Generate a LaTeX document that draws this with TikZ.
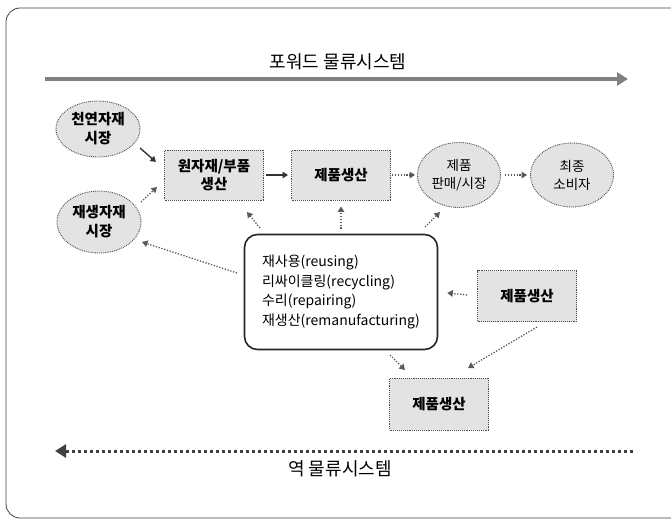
\documentclass[tikz,border=0pt]{standalone}
\usepackage{fontspec}
\setmainfont{Noto Sans CJK KR}
\usetikzlibrary{arrows.meta,shapes.geometric}
\begin{document}
\begin{tikzpicture}[x=1pt,y=-1pt,
  shaded/.style={draw=black!70, densely dotted, line width=0.9pt, fill=black!11, align=center, inner sep=0pt},
  rbox/.style={shaded, rectangle, minimum width=99pt, minimum height=50pt, font=\bfseries\fontsize{14.5}{18}\selectfont},
  ebox/.style={shaded, ellipse, minimum width=84pt, minimum height=60pt, font=\bfseries\fontsize{14.5}{19}\selectfont},
  eboxlight/.style={ebox, font=\fontsize{13.5}{18}\selectfont},
  dotarr/.style={draw=black!65, line width=1.3pt, dash pattern=on 1.3pt off 1.6pt, -{Triangle[width=6.5pt,length=5.5pt]}},
  solidarr/.style={draw=black!80, line width=1.4pt, -{Triangle[width=6.5pt,length=5.5pt]}},
  label/.style={font=\fontsize{18}{21}\selectfont, inner sep=0pt}
]
\useasboundingbox (0,0) rectangle (671,519);
% outer frame (runs off the right and bottom edges)
\begin{scope}
\clip (0,0) rectangle (671,519);
\draw[black!75, line width=0.8pt, rounded corners=14pt] (6,8) rectangle (720,518);
\end{scope}

% forward system
\node[label] (ftitle) at (338,62) {포워드 물류시스템};
\coordinate (fa) at (45,79);
\coordinate (fb) at (628,79);
\draw[line width=3.2pt, black!50, -{Triangle[width=13pt,length=11pt]}] (fa) -- (fb);

% nodes
\node[ebox, minimum height=56pt] (e1) at (98,129) {천연자재\\시장};
\node[ebox, minimum height=62pt] (e2) at (99,222) {재생자재\\시장};
\node[rbox] (r1) at (214,175) {원자재/부품\\생산};
\node[rbox] (r2) at (341,175) {제품생산};
\node[eboxlight, minimum width=83pt, minimum height=65pt] (e3) at (459,175) {제품\\판매/시장};
\node[eboxlight, minimum width=83pt, minimum height=64pt] (e4) at (572,175) {최종\\소비자};
\node[draw=black!85, line width=1.6pt, rounded corners=13pt, fill=white,
      minimum width=193pt, minimum height=115pt, align=left, inner sep=0pt,
      font=\fontsize{14}{19.5}\selectfont] (box) at (341,292)
      {재사용(reusing)\\리싸이클링(recycling)\\수리(repairing)\\재생산(remanufacturing)};
\node[rbox, minimum height=51pt] (rr) at (527,296) {제품생산};
\node[rbox, minimum height=52pt] (rb) at (439,404) {제품생산};

% connectors
\draw[solidarr] ([shift={(42,19)}]e1.center) -- ([shift={(-58,-13)}]r1.center);
\draw[dotarr] ([shift={(42,-20)}]e2.center) -- ([shift={(-57,12)}]r1.center);
\draw[solidarr, shorten <=2pt, shorten >=3pt] (r1.east) -- (r2.west);
\draw[dotarr, shorten <=1pt, shorten >=2pt] (r2.east) -- (e3.west);
\draw[dotarr, shorten <=4pt, shorten >=3pt] (e3.east) -- (e4.west);
\draw[dotarr] ([shift={(-81,-64)}]box.center) -- ([shift={(33,37)}]r1.center);
\draw[dotarr, shorten <=5pt, shorten >=6pt] (box.north) -- (r2.south);
\draw[dotarr] ([shift={(84,-65)}]box.center) -- ([shift={(-19,37)}]e3.center);
\draw[dotarr] ([shift={(-104,-19)}]box.center) -- ([shift={(43,20)}]e2.center);
\draw[dotarr, shorten <=10pt, shorten >=9pt] (rr.west) -- (box.east);
\draw[dotarr] ([shift={(49,63)}]box.center) -- ([shift={(-34,-34)}]rb.center);
\draw[dotarr] ([shift={(10,31)}]rr.center) -- ([shift={(29,-36)}]rb.center);

% reverse system
\coordinate (ra) at (633,451);
\coordinate (rz) at (55,451);
\draw[line width=3pt, black!75, dash pattern=on 2.6pt off 3.4pt, -{Triangle[width=13pt,length=11pt]}] (ra) -- (rz);
\node[label] (rtitle) at (340,469) {역 물류시스템};
\end{tikzpicture}
\end{document}
